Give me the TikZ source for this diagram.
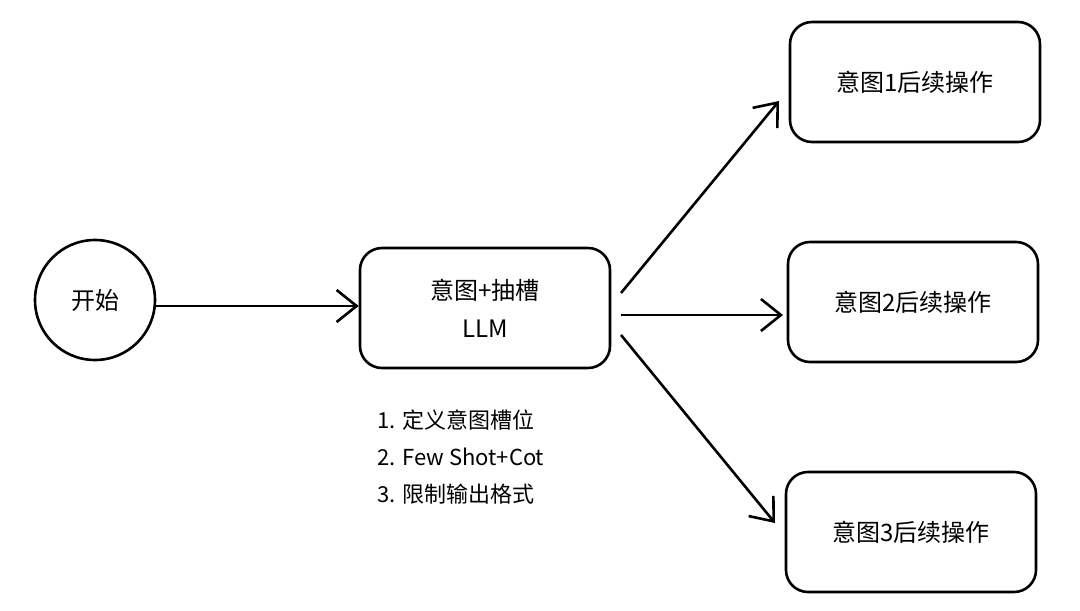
\documentclass[tikz,border=0pt]{standalone}
\usepackage{fontspec}
\setmainfont{Noto Sans CJK SC}
\usetikzlibrary{arrows.meta}
\begin{document}
\begin{tikzpicture}[x=1pt,y=-1pt,
  box/.style={draw, line width=2.6pt, rounded corners=22pt, minimum width=250pt, minimum height=120pt, font=\fontsize{24}{38}\selectfont, align=center},
  arr/.style={line width=2.6pt, -{Straight Barb[length=20pt,width=32pt,line width=2.6pt]}}]
\useasboundingbox (0,0) rectangle (1080,611);
\node[draw, circle, line width=2.6pt, minimum size=120pt, font=\fontsize{24}{30}\selectfont] (s) at (95,300) {开始};
\node[box] (m) at (485,308) {意图+抽槽\\LLM};
\node[box] (b1) at (915,82) {意图1后续操作};
\node[box] (b2) at (913,302) {意图2后续操作};
\node[box] (b3) at (911,532) {意图3后续操作};
\node[anchor=north west, align=left, font=\fontsize{22}{37}\selectfont] (n) at (374,406) {1. 定义意图槽位\\2. Few Shot+Cot\\3. 限制输出格式};
\draw[arr] (s.east |- 0,306) -- (m.west |- 0,306);
\draw[arr] (621,293) -- (779,101);
\draw[arr] (621,315) -- (783,315);
\draw[arr] (621,335) -- (775,523);
\end{tikzpicture}
\end{document}
